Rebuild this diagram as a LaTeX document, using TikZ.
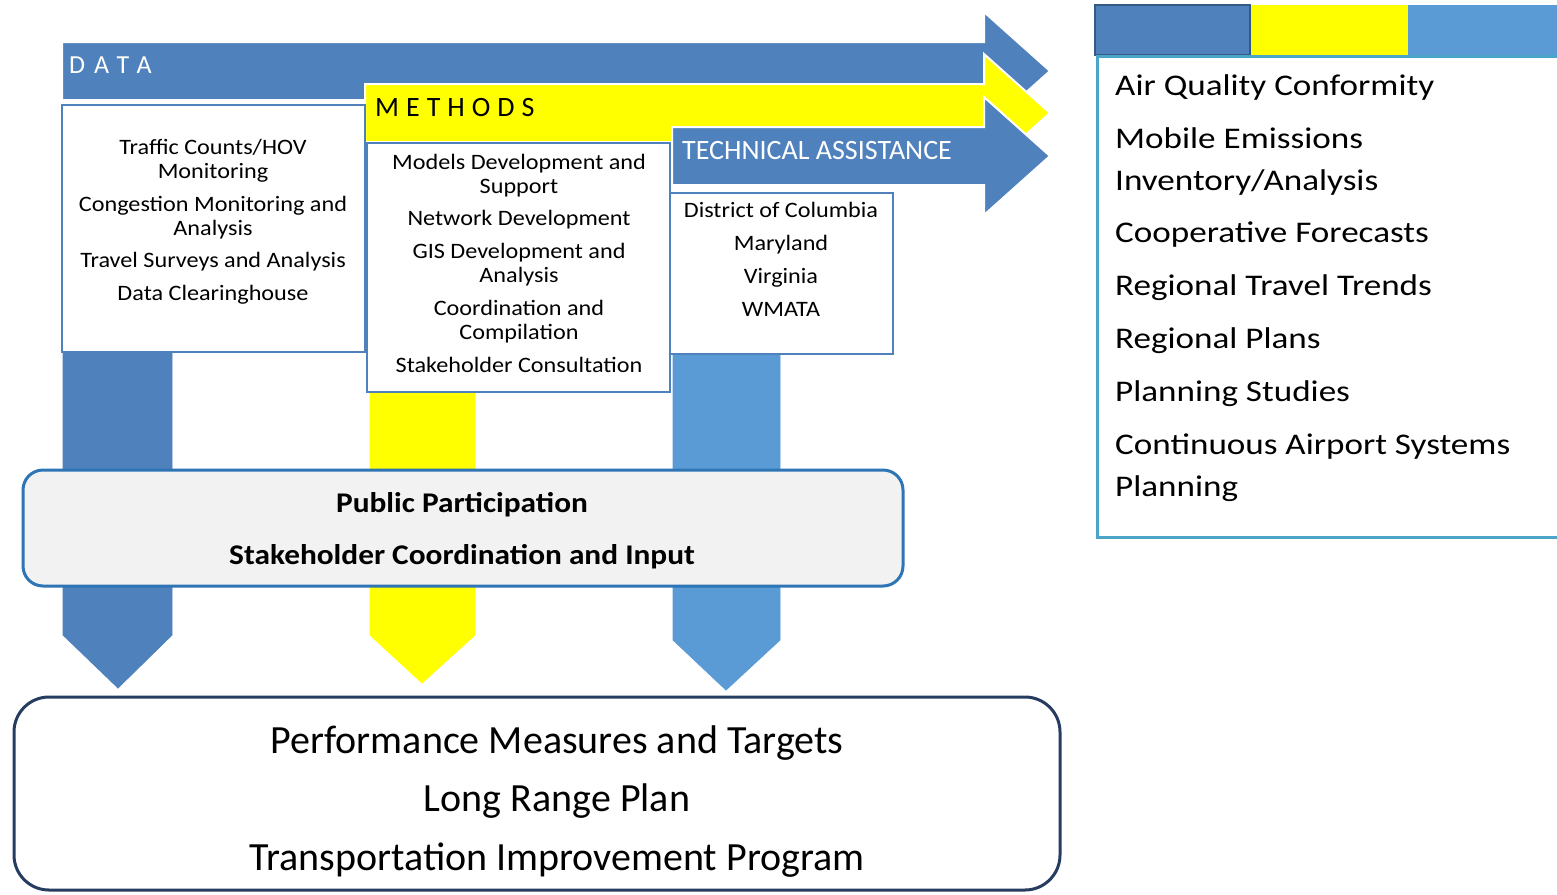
\documentclass[tikz,border=0pt]{standalone}
\usepackage{fontspec}
\setmainfont{Carlito}
\newfontfamily\boxfont[FakeStretch=1.1]{Carlito}
\newfontfamily\panelfont[FakeStretch=1.17]{Carlito}
\definecolor{datablue}{RGB}{79,129,189}
\definecolor{techblue}{RGB}{91,155,213}
\definecolor{methyellow}{RGB}{255,255,0}
\definecolor{panelline}{RGB}{75,165,200}
\definecolor{partline}{RGB}{46,117,182}
\definecolor{planline}{RGB}{38,60,96}
\definecolor{partfill}{RGB}{242,242,242}
\begin{document}
\begin{tikzpicture}[x=1pt, y=-1pt,
	item/.style={anchor=base, font=\boxfont\fontsize{22}{24}\selectfont, inner sep=0pt},
	paneltext/.style={anchor=base west, font=\panelfont\fontsize{30}{36}\selectfont, inner sep=0pt},
	plantext/.style={anchor=base, font=\fontsize{40}{44}\selectfont, inner sep=0pt},
	parttext/.style={anchor=base, font=\bfseries\boxfont\fontsize{28.5}{32}\selectfont, inner sep=0pt},
	listbox/.style={draw=datablue, line width=2.5pt, fill=white},
	bandarrow/.style={draw=white, line width=2pt}]
	\useasboundingbox (0,0) rectangle (1557,894);

			\begin{scope}[draw=black!20, line width=0.8pt]
			\filldraw[datablue] (63,340) -- (172,340) -- (172,635) -- (118,688) -- (63,635) -- cycle;
			\filldraw[methyellow] (370,380) -- (475,380) -- (475,635) -- (422,683) -- (370,635) -- cycle;
			\filldraw[techblue] (673,340) -- (780,340) -- (780,640) -- (726,690) -- (673,640) -- cycle;
			\end{scope}

			\filldraw[bandarrow, fill=datablue] (62,42) -- (984,42) -- (984,12) -- (1050,71) -- (984,130) -- (984,100) -- (62,100) -- cycle;
			\filldraw[bandarrow, fill=methyellow] (365,84) -- (984,84) -- (984,54) -- (1050,113) -- (984,172) -- (984,142) -- (365,142) -- cycle;
			\filldraw[bandarrow, fill=datablue] (672,127) -- (984,127) -- (984,97) -- (1050,156) -- (984,215) -- (984,185) -- (672,185) -- cycle;

			\node[anchor=base west, text=white, inner sep=0pt, font={\fontsize{26}{26}\selectfont\addfontfeature{LetterSpace=36}}] (datalabel) at (69,73) {DATA};
			\node[anchor=base west, inner sep=0pt, font={\fontsize{28}{28}\selectfont\addfontfeature{LetterSpace=25}}] (methlabel) at (375,116) {METHODS};
			\node[anchor=base west, text=white, inner sep=0pt, font=\fontsize{28}{28}\selectfont] (techlabel) at (682,159) {TECHNICAL ASSISTANCE};

			\draw[listbox] (62,105) rectangle (365,352);
			\draw[listbox] (367,143) rectangle (670,392);
			\draw[listbox] (670,193) rectangle (893,354);

			\foreach \txt/\y [count=\i] in {{Traffic Counts/HOV}/154, Monitoring/178, {Congestion Monitoring and}/211, Analysis/235, {Travel Surveys and Analysis}/267, {Data Clearinghouse}/300}
				\node[item] (data-\i) at (213,\y) {\txt};
			\foreach \txt/\y [count=\i] in {{Models Development and}/169, Support/193, {Network Development}/225, {GIS Development and}/258, Analysis/282, {Coordination and}/315, Compilation/339, {Stakeholder Consultation}/372}
				\node[item] (meth-\i) at (519,\y) {\txt};
			\foreach \txt/\y [count=\i] in {{District of Columbia}/217, Maryland/250, Virginia/283, WMATA/316}
				\node[item] (tech-\i) at (781,\y) {\txt};

			\node[draw=partline, fill=partfill, line width=3pt, rounded corners=20pt, minimum width=880pt, minimum height=116pt] (part) at (463,528) {};
			\node[parttext] (part-a) at (462,512) {Public Participation};
			\node[parttext] (part-b) at (462,564) {Stakeholder Coordination and Input};

			\draw[planline, line width=3pt, rounded corners=35pt, fill=white] (14,697) rectangle (1060,890);
			\foreach \txt/\y [count=\i] in {{Performance Measures and Targets}/753, {Long Range Plan}/811, {Transportation Improvement Program}/870}
				\node[plantext] (plan-\i) at (557,\y) {\txt};

			\begin{scope}
			\filldraw[fill=datablue, draw=datablue!70!black, line width=1.5pt] (1095,5) rectangle (1250,55);
			\fill[methyellow] (1251,5) rectangle (1408,55);
			\fill[techblue] (1408,5) rectangle (1570,55);
			\draw[panelline, line width=3pt] (1570,56) -- (1097,56) -- (1097,537) -- (1570,537);
			\end{scope}
			\foreach \txt/\y [count=\i] in {{Air Quality Conformity}/95, {Mobile Emissions}/148, {Inventory/Analysis}/190, {Cooperative Forecasts}/242, {Regional Travel Trends}/295, {Regional Plans}/348, {Planning Studies}/401, {Continuous Airport Systems}/454, Planning/496}
				\node[paneltext] (panel-\i) at (1115,\y) {\txt};
\end{tikzpicture}
\end{document}
